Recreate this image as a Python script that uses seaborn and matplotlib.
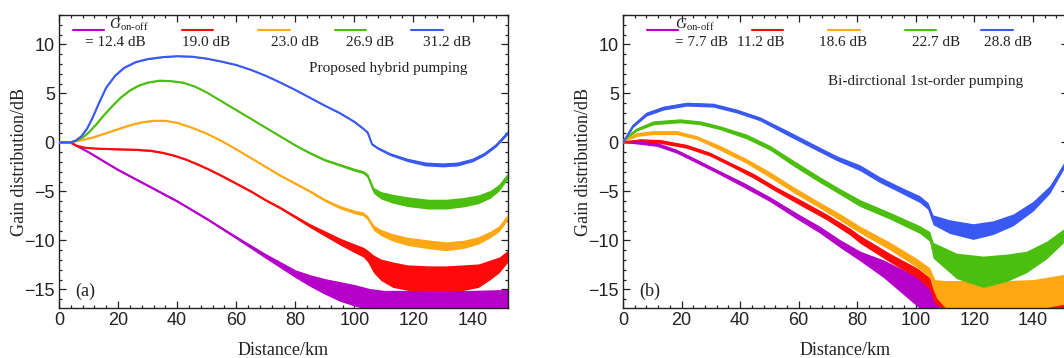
import numpy as np
import pandas as pd
import seaborn as sns
import matplotlib
matplotlib.use("Agg")
import matplotlib.pyplot as plt
from matplotlib.ticker import MultipleLocator

# ---------------- data: gain distribution along the fibre ----------------
# *_x in km, *_y in dB, *_w = half-width of the noise band around the trace in dB

# (a) proposed hybrid pumping
A_LABELS = ["= 12.4 dB", "19.0 dB", "23.0 dB", "26.9 dB", "31.2 dB"]

a_mag_x = [0, 3.8, 10, 20, 30, 40, 50, 60, 70, 80, 85, 90, 95, 100, 105, 110, 120, 130, 140, 152]
a_mag_y = [0, 0, -1.0, -2.8, -4.4, -6.0, -7.8, -9.7, -11.6, -13.4, -14.1, -14.7, -15.2, -15.6, -16.0, -16.2, -16.2, -16.2, -16.2, -16.1]
a_mag_w = [0, 0, 0.08, 0.1, 0.1, 0.1, 0.1, 0.15, 0.25, 0.4, 0.6, 0.8, 1.0, 1.1, 1.1, 1.1, 1.1, 1.1, 1.1, 1.1]

a_red_x = [0, 3.8, 6, 9, 14, 20, 26, 31, 35, 39, 43, 47, 51, 55, 60, 65, 70, 75, 80, 85, 90, 95, 100, 103,
           104.5, 106.5, 109, 113, 118, 125, 131, 137, 142, 146, 149, 152]
a_red_y = [0, 0, -0.35, -0.55, -0.65, -0.7, -0.75, -0.85, -1.05, -1.35, -1.75, -2.25, -2.8, -3.4, -4.2, -5.0,
           -5.9, -6.7, -7.6, -8.5, -9.3, -10.1, -10.8, -11.2, -11.6, -12.4, -13.0, -13.5, -13.8, -13.9, -13.9,
           -13.8, -13.6, -13.0, -12.5, -11.6]
a_red_w = [0, 0, 0.05, 0.06, 0.06, 0.07, 0.07, 0.08, 0.08, 0.08, 0.08, 0.09, 0.09, 0.1, 0.1, 0.1, 0.1, 0.12,
           0.15, 0.2, 0.28, 0.35, 0.45, 0.5, 0.6, 0.9, 1.1, 1.3, 1.3, 1.3, 1.3, 1.3, 1.2, 1.0, 0.8, 0.6]

a_org_x = [0, 3.8, 8, 12, 16, 20, 24, 28, 32, 36, 40, 45, 50, 55, 60, 65, 70, 75, 80, 85, 90, 95, 100, 103,
           104.5, 106.5, 109, 113, 118, 125, 131, 137, 142, 146, 149, 152]
a_org_y = [0, 0, 0.25, 0.55, 0.95, 1.35, 1.75, 2.05, 2.2, 2.2, 2.0, 1.5, 0.9, 0.15, -0.7, -1.6, -2.5, -3.4,
           -4.2, -5.0, -5.9, -6.6, -7.1, -7.3, -7.7, -8.7, -9.2, -9.7, -10.1, -10.4, -10.6, -10.4, -10.0, -9.4,
           -8.8, -7.6]
a_org_w = [0, 0, 0.04, 0.05, 0.05, 0.05, 0.05, 0.05, 0.05, 0.05, 0.06, 0.06, 0.06, 0.07, 0.07, 0.08, 0.08,
           0.1, 0.1, 0.12, 0.14, 0.16, 0.18, 0.2, 0.22, 0.28, 0.32, 0.38, 0.42, 0.45, 0.45, 0.42, 0.38, 0.34,
           0.3, 0.3]

a_grn_x = [0, 3.8, 6, 8, 10, 12.5, 15, 18, 21, 24, 27, 30, 34, 38, 42, 46, 50, 55, 60, 65, 70, 75, 80, 85,
           90, 95, 100, 103, 104.5, 106.5, 109, 113, 118, 125, 131, 137, 142, 146, 149, 152]
a_grn_y = [0, 0, 0.2, 0.5, 1.0, 1.8, 2.7, 3.7, 4.6, 5.3, 5.8, 6.1, 6.3, 6.25, 6.1, 5.7, 5.1, 4.2, 3.3, 2.4,
           1.5, 0.6, -0.3, -1.1, -1.8, -2.3, -2.8, -3.05, -3.4, -4.9, -5.4, -5.75, -6.05, -6.3, -6.3, -6.1,
           -5.8, -5.3, -4.6, -3.4]
a_grn_w = [0, 0, 0.04, 0.04, 0.05, 0.05, 0.05, 0.05, 0.05, 0.05, 0.05, 0.05, 0.05, 0.05, 0.06, 0.06, 0.06,
           0.06, 0.07, 0.07, 0.08, 0.08, 0.09, 0.1, 0.11, 0.12, 0.14, 0.15, 0.2, 0.3, 0.38, 0.45, 0.5, 0.5,
           0.5, 0.48, 0.45, 0.4, 0.35, 0.3]

a_blu_x = [0, 3.8, 5.5, 7.5, 9.5, 11.5, 13.5, 16, 19, 22, 26, 30, 35, 40, 45, 50, 55, 60, 65, 70, 75, 80,
           85, 90, 95, 100, 103, 104.5, 106, 108, 112, 118, 124, 130, 135, 140, 144, 148, 152]
a_blu_y = [0, 0, 0.15, 0.6, 1.4, 2.6, 4.0, 5.6, 6.8, 7.6, 8.2, 8.5, 8.7, 8.8, 8.75, 8.55, 8.25, 7.9, 7.4,
           6.8, 6.1, 5.35, 4.55, 3.75, 3.0, 2.1, 1.4, 1.0, -0.2, -0.6, -1.2, -1.8, -2.2, -2.3, -2.2, -1.8,
           -1.2, -0.3, 1.0]
a_blu_w = [0, 0, 0.04, 0.04, 0.04, 0.04, 0.04, 0.04, 0.04, 0.04, 0.05, 0.05, 0.05, 0.05, 0.05, 0.05, 0.05,
           0.05, 0.05, 0.06, 0.06, 0.06, 0.07, 0.07, 0.08, 0.08, 0.09, 0.1, 0.1, 0.12, 0.14, 0.17, 0.2, 0.2,
           0.2, 0.18, 0.16, 0.15, 0.15]

# (b) bi-directional 1st-order pumping
B_LABELS = ["= 7.7 dB", "11.2 dB", "18.6 dB", "22.7 dB", "28.8 dB"]

b_mag_x = [0, 5.8, 11.5, 18.3, 25.1, 33.1, 41, 50.2, 59.3, 67.2, 74, 81, 89, 94.5, 100.4, 105, 110, 130, 152]
b_mag_y = [0, -0.05, -0.2, -0.9, -1.9, -3.1, -4.3, -5.8, -7.5, -8.9, -10.3, -11.6, -12.9, -14.0, -15.2,
           -16.3, -17.3, -17.6, -17.4]
b_mag_w = [0, 0.15, 0.2, 0.2, 0.2, 0.2, 0.25, 0.25, 0.3, 0.35, 0.4, 0.5, 0.9, 1.2, 1.5, 1.6, 1.6, 1.6, 1.6]

b_red_x = [0, 5.8, 12.6, 21.7, 29.7, 36.5, 44.5, 52.4, 61.6, 69.5, 77.5, 81, 91.3, 100.4, 104.8, 107, 110,
           130, 145, 152]
b_red_y = [0, 0.2, 0.1, -0.4, -1.2, -2.2, -3.4, -4.8, -6.3, -7.6, -9.1, -9.9, -11.8, -13.3, -14.4, -16.0,
           -17.0, -17.2, -17.0, -16.6]
b_red_w = [0, 0.15, 0.2, 0.2, 0.2, 0.2, 0.25, 0.25, 0.3, 0.3, 0.35, 0.4, 0.45, 0.5, 0.6, 1.0, 1.2, 1.2, 1.2,
           1.2]

b_org_x = [0, 0.5, 4.7, 10.4, 18.3, 25.1, 33.1, 42.2, 50.2, 58.1, 67.2, 74, 81, 91.3, 100.4, 104.8, 106.5,
           110, 120, 130, 140, 146, 152]
b_org_y = [0, 0.2, 0.8, 1.0, 1.0, 0.5, -0.55, -1.9, -3.3, -4.8, -6.4, -7.6, -8.9, -10.6, -12.3, -13.3, -15.0,
           -15.6, -15.7, -15.7, -15.6, -15.3, -15.0]
b_org_w = [0, 0.1, 0.2, 0.2, 0.2, 0.2, 0.25, 0.25, 0.3, 0.3, 0.3, 0.35, 0.35, 0.4, 0.45, 0.5, 1.0, 1.5, 1.6,
           1.6, 1.6, 1.6, 1.6]

b_grn_x = [0, 0.5, 4.7, 10.4, 19.5, 26.3, 33.1, 42.2, 50.2, 58.1, 67.2, 74, 81, 91.3, 101.4, 104.8, 105.9,
           113.9, 123, 131, 137.8, 144.6, 150.6, 152]
b_grn_y = [0, 0.3, 1.3, 2.0, 2.2, 2.0, 1.5, 0.6, -0.55, -2.1, -3.8, -5.0, -6.2, -7.5, -8.9, -9.6, -11.0,
           -12.6, -13.2, -12.8, -12.2, -11.0, -9.5, -9.0]
b_grn_w = [0, 0.1, 0.15, 0.2, 0.2, 0.2, 0.2, 0.25, 0.25, 0.3, 0.3, 0.3, 0.35, 0.35, 0.4, 0.5, 0.8, 1.3, 1.6,
           1.4, 1.1, 0.9, 0.7, 0.7]

b_blu_x = [0, 0.7, 3.5, 8.1, 13.8, 21.7, 30.8, 38.8, 46.8, 55.9, 65, 72.9, 81, 87.7, 94.5, 101.4, 104.2,
           105.9, 111.6, 119.6, 126.4, 133.3, 140.1, 145.8, 150.6, 152]
b_blu_y = [0, 0.3, 1.7, 2.9, 3.5, 3.9, 3.8, 3.2, 2.4, 1.0, -0.4, -1.6, -2.6, -3.8, -4.8, -5.8, -6.5, -7.9,
           -8.6, -9.1, -8.7, -7.9, -6.5, -4.8, -2.4, -1.6]
b_blu_w = [0, 0.1, 0.15, 0.2, 0.2, 0.2, 0.2, 0.2, 0.2, 0.25, 0.25, 0.25, 0.3, 0.3, 0.3, 0.35, 0.35, 0.5, 0.7,
           0.8, 0.7, 0.6, 0.5, 0.4, 0.3, 0.3]

COLORS = ["#B400C8", "#FF0A0A", "#FFA814", "#4CBE10", "#3A58F2"]

PANELS = [
    dict(series=[(a_mag_x, a_mag_y, a_mag_w), (a_red_x, a_red_y, a_red_w), (a_org_x, a_org_y, a_org_w),
                 (a_grn_x, a_grn_y, a_grn_w), (a_blu_x, a_blu_y, a_blu_w)],
         labels=A_LABELS, title="Proposed hybrid pumping", tag="(a)"),
    dict(series=[(b_mag_x, b_mag_y, b_mag_w), (b_red_x, b_red_y, b_red_w), (b_org_x, b_org_y, b_org_w),
                 (b_grn_x, b_grn_y, b_grn_w), (b_blu_x, b_blu_y, b_blu_w)],
         labels=B_LABELS, title="Bi-dirctional 1st-order pumping", tag="(b)"),
]

# ---------------- layout ----------------
W, H, DPI = 1064, 358, 100
XLIM = (0, 152)
YLIM = (-16.9, 13.0)
SERIF = "Liberation Serif"
SANS = "Liberation Sans"
INK = "#222222"
G_LABEL = "$G_{\\mathrm{on\u2010off}}$"

sns.set_theme(style="ticks")
plt.rcParams["font.family"] = [SERIF, "DejaVu Serif"]
plt.rcParams["mathtext.fontset"] = "custom"
plt.rcParams["mathtext.rm"] = SERIF
plt.rcParams["mathtext.it"] = SERIF + ":italic"

fig = plt.figure(figsize=(W / DPI, H / DPI), dpi=DPI)
fig.patch.set_facecolor("white")

ax_rects = [
    (59 / W, 1 - 308 / H, 449 / W, 293 / H),
    (623 / W, 1 - 308 / H, 445 / W, 293 / H),
]
key_y = 0.945                          # vertical anchor of the legend keys (axes fraction)
first_key_x = [0.031, 0.054]           # left end of the first key
other_keys_x = [0.274, 0.290]          # left end of the second key
g_xy = [(17.0, 12.0), (17.7, 12.0)]    # G_on-off caption (data coords)
label_x = [[8.8, 41.5, 71.6, 97.1, 123.2], [17.6, 38.9, 67.0, 98.6, 123.3]]
label_y = 10.15
title_xy = [(84.5, 7.5), (69.9, 6.2)]

for p, (panel, rect) in enumerate(zip(PANELS, ax_rects)):
    ax = fig.add_axes(rect)
    ax.set_facecolor("white")
    handles = []
    for (xs, ys, ws), col in zip(panel["series"], COLORS):
        df = pd.DataFrame({"km": xs, "gain": ys, "w": ws})
        ax.fill_between(df["km"], df["gain"] - df["w"], df["gain"] + df["w"],
                        color=col, lw=0, zorder=2)
        sns.lineplot(data=df, x="km", y="gain", ax=ax, color=col, lw=1.5,
                     estimator=None, sort=False, zorder=3)
        handles.append(ax.lines[-1])

    ax.set_xlim(*XLIM)
    ax.set_ylim(*YLIM)
    ax.xaxis.set_major_locator(MultipleLocator(20))
    ax.xaxis.set_minor_locator(MultipleLocator(4))
    ax.yaxis.set_major_locator(MultipleLocator(5))
    ax.yaxis.set_minor_locator(MultipleLocator(1))
    ax.tick_params(which="both", direction="in", top=True, right=True, color=INK, width=0.9)
    ax.tick_params(which="major", length=5, labelsize=13, pad=3, labelcolor=INK)
    ax.tick_params(which="minor", length=2.5)
    for lab in ax.get_xticklabels() + ax.get_yticklabels():
        lab.set_fontfamily(SANS)
    for s in ax.spines.values():
        s.set_color(INK)
        s.set_linewidth(1.0)

    ax.set_xlabel("Distance/km", fontsize=13, labelpad=9, color=INK)
    ax.set_ylabel("Gain distribution/dB", fontsize=13, labelpad=-3, color=INK)

    # legend keys: first key on its own, remaining four evenly spaced
    common = dict(loc="center left", frameon=False, fontsize=11, handlelength=2.05,
                  handletextpad=0.0, borderpad=0, borderaxespad=0)
    leg1 = ax.legend(handles=handles[:1], labels=[""], bbox_to_anchor=(first_key_x[p], key_y), **common)
    ax.add_artist(leg1)
    ax.legend(handles=handles[1:], labels=["", "", "", ""], ncol=4, columnspacing=2.95,
              bbox_to_anchor=(other_keys_x[p], key_y), **common)

    ax.text(*g_xy[p], G_LABEL, fontsize=11, ha="left", va="center", color=INK)
    for t, lx in zip(panel["labels"], label_x[p]):
        ax.text(lx, label_y, t, fontsize=11, ha="left", va="center", color=INK)
    ax.text(*title_xy[p], panel["title"], fontsize=11, ha="left", va="center", color=INK)
    ax.text(5.4, -15.2, panel["tag"], fontsize=13, ha="left", va="center", color=INK)

fig.savefig("out.png", dpi=DPI, facecolor="white")
